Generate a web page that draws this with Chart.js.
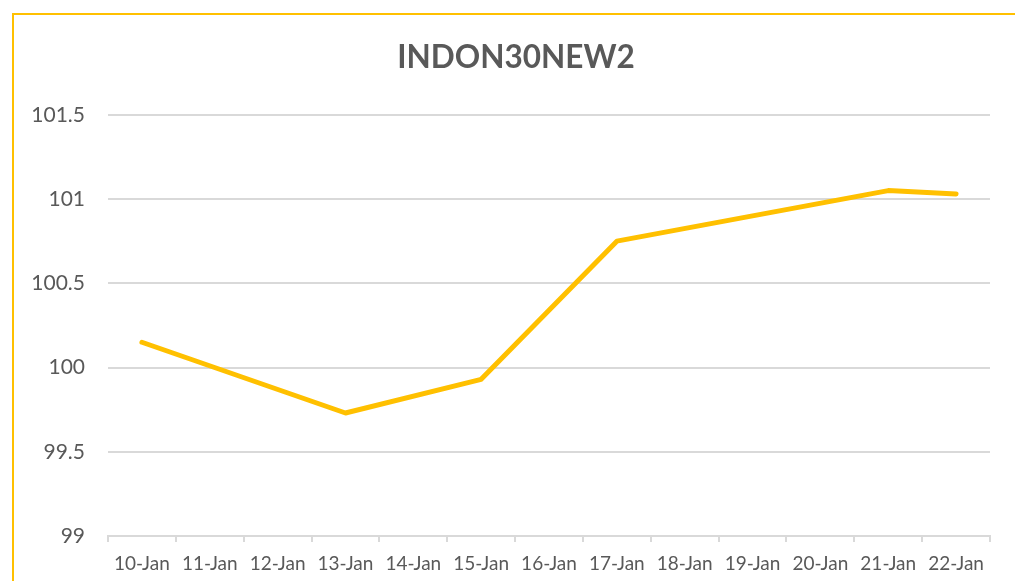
<!DOCTYPE html>
<html>
<head>
<meta charset="utf-8">
<script src="https://cdn.jsdelivr.net/npm/chart.js@4"></script>
<style>
  html, body { margin: 0; padding: 0; background: #fff; }
  #wrap { position: relative; width: 1015px; height: 581px; overflow: hidden; }
  #frame { position: absolute; left: 12px; top: 13px; width: 1020px; height: 600px; border: 2px solid #FFC000; box-sizing: border-box; }
  canvas { position: absolute; left: 0; top: 0; }
</style>
</head>
<body>
<div id="wrap">
  <canvas id="chart" width="1015" height="581"></canvas>
  <div id="frame"></div>
</div>
<script>
// данные графика
const chartTitle = 'INDON30NEW2';
const dayLabels = ['10-Jan', '11-Jan', '12-Jan', '13-Jan', '14-Jan', '15-Jan', '16-Jan',
                   '17-Jan', '18-Jan', '19-Jan', '20-Jan', '21-Jan', '22-Jan'];
const priceValues = [100.15, null, null, 99.73, null, 99.93, null,
                     100.75, null, null, null, 101.05, 101.03];
const yTicks = { min: 99, max: 101.5, step: 0.5 };

const lineColor = '#FFC000';
const textColor = '#595959';
const gridColor = '#D9D9D9';

const ctx = document.getElementById('chart').getContext('2d');

new Chart(ctx, {
    type: 'line',
    data: {
        labels: dayLabels,
        datasets: [{
            label: chartTitle,
            data: priceValues,
            borderColor: lineColor,
            backgroundColor: lineColor,
            borderWidth: 5,
            borderCapStyle: 'round',
            borderJoinStyle: 'round',
            pointRadius: 0,
            tension: 0,
            spanGaps: true
        }]
    },
    options: {
        responsive: false,
        animation: false,
        layout: {
            // отступ слева, чтобы заголовок стоял по центру рамки
            padding: { left: 17, right: 0, top: 0, bottom: 0 }
        },
        plugins: {
            legend: { display: false },
            tooltip: { enabled: false },
            title: {
                display: true,
                text: chartTitle,
                color: textColor,
                font: { family: 'Lato', size: 31.5, weight: 'bold' },
                padding: { top: 39, bottom: 38 }
            }
        },
        scales: {
            x: {
                offset: true,
                afterFit: function (scale) { scale.height = 45; },
                border: { display: true, color: gridColor, width: 2 },
                grid: {
                    offset: true,
                    drawOnChartArea: false,
                    drawTicks: true,
                    tickLength: 6,
                    color: gridColor,
                    lineWidth: 2
                },
                ticks: {
                    color: textColor,
                    font: { family: 'Lato', size: 19 },
                    padding: 10,
                    maxRotation: 0,
                    autoSkip: false
                }
            },
            y: {
                min: yTicks.min,
                max: yTicks.max,
                afterFit: function (scale) { scale.width = 91; },
                border: { display: false },
                grid: {
                    color: gridColor,
                    lineWidth: 2,
                    drawTicks: false
                },
                ticks: {
                    stepSize: yTicks.step,
                    color: textColor,
                    font: { family: 'Lato', size: 21 },
                    padding: 23,
                    callback: function (value) {
                        return String(Math.round(value * 10) / 10);
                    }
                }
            },
            // пустая ось справа - просто место под правое поле
            yRight: {
                position: 'right',
                afterFit: function (scale) { scale.width = 25; },
                border: { display: false },
                grid: { display: false },
                ticks: { display: false }
            }
        }
    }
});
</script>
</body>
</html>
